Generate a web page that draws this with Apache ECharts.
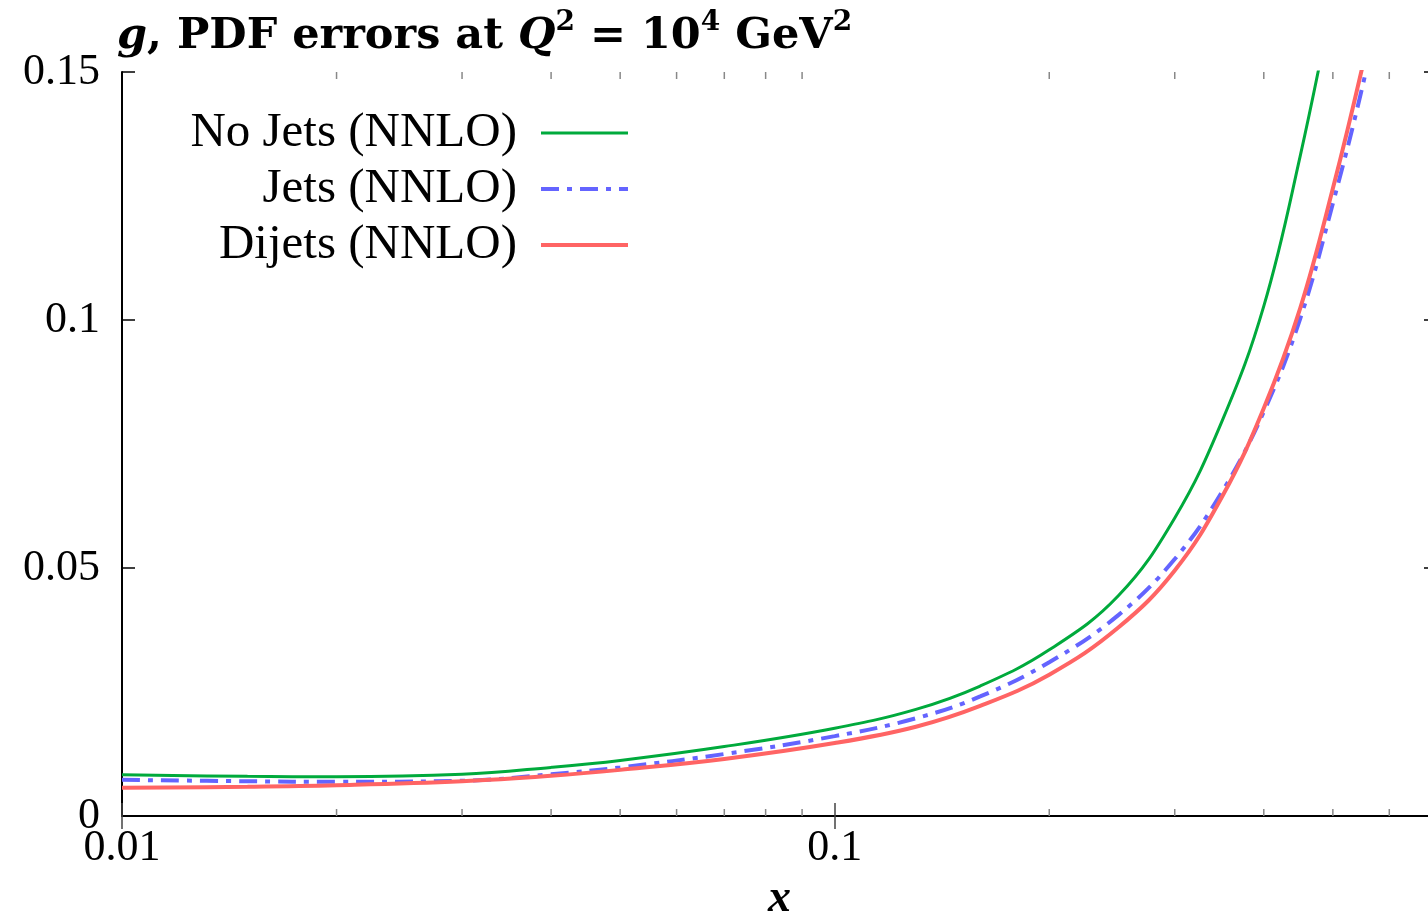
<!DOCTYPE html>
<html>
<head>
<meta charset="utf-8">
<script src="https://cdn.jsdelivr.net/npm/echarts@6/dist/echarts.min.js"></script>
<style>
html,body{margin:0;padding:0;background:#fff;}
#chart{width:1428px;height:915px;}
</style>
</head>
<body>
<div id="chart"></div>
<script>
// x values (log axis)
const xValues = [0.01, 0.015, 0.02, 0.03, 0.04, 0.05, 0.07, 0.1, 0.13, 0.16, 0.2, 0.25, 0.3, 0.35, 0.4, 0.45, 0.5, 0.55, 0.6];
// PDF errors
const noJets = [0.0083, 0.0080, 0.0079, 0.0084, 0.0098, 0.0112, 0.0140, 0.0177, 0.0215, 0.0262, 0.0335, 0.0444, 0.0601, 0.0798, 0.1028, 0.1331, 0.165, null, null];
const jets   = [0.0073, 0.0070, 0.0069, 0.0071, 0.0084, 0.0098, 0.0125, 0.0161, 0.0197, 0.0241, 0.0310, 0.0405, 0.0518, 0.0655, 0.0815, 0.1003, 0.1235, 0.1470, 0.1720];
const dijets = [0.0057, 0.0059, 0.0062, 0.0070, 0.0081, 0.0093, 0.0115, 0.0147, 0.0180, 0.0222, 0.0285, 0.0380, 0.0495, 0.0645, 0.0822, 0.1024, 0.1265, 0.1510, 0.1760];
const seriesNames = ['No Jets (NNLO)', 'Jets (NNLO)', 'Dijets (NNLO)'];
const seriesColors = ['#00aa3c', '#6464ff', '#ff6464'];
const seriesWidths = [3, 4, 4];
const minorTicks = [0.02, 0.03, 0.04, 0.05, 0.06, 0.07, 0.08, 0.09, 0.2, 0.3, 0.4, 0.5, 0.6];
const yTicks = { min: 0, max: 0.15, interval: 0.05 };
const xRange = { min: 0.01, max: 0.7 };

const FONT = 'Liberation Serif';
const DASHDOT = [18, 8, 5, 8];
const pair = arr => xValues.map((x, i) => [x, arr[i]]).filter(p => p[1] !== null);

const chart = echarts.init(document.getElementById('chart'), null, { renderer: 'canvas' });

const xLabelFmt = v => {
  const l = Math.log10(v);
  return Math.abs(l - Math.round(l)) < 1e-6 ? String(+v.toPrecision(3)) : '';
};

const commonY = {
  type: 'value', min: yTicks.min, max: yTicks.max, interval: yTicks.interval,
  axisLine: { show: true, lineStyle: { color: '#000', width: 2 } },
  axisTick: { show: true, inside: true, length: 13, lineStyle: { color: '#000', width: 1.5 } },
  splitLine: { show: false }
};

const option = {
  animation: false,
  backgroundColor: '#fff',
  title: {
    left: 117, top: 9, padding: 0,
    text: '{gi|g}{b|, PDF errors at }{gi|Q}{sup|2}{b| = 10}{sup|4}{b| GeV}{sup|2}',
    textStyle: {
      rich: {
        b: { fontFamily: 'DejaVu Serif', fontWeight: 'bold', fontSize: 43, color: '#000', lineHeight: 56 },
        gi: { fontFamily: 'DejaVu Serif', fontWeight: 'bold', fontStyle: 'italic', fontSize: 43, color: '#000', lineHeight: 56 },
        sup: { fontFamily: 'DejaVu Serif', fontWeight: 'bold', fontSize: 28, color: '#000', verticalAlign: 'top', lineHeight: 56, padding: [0, 0, 20, 0] }
      }
    }
  },
  legend: {
    orient: 'vertical', align: 'right',
    right: 798, top: 105, padding: 0,
    itemWidth: 87, itemHeight: 2, itemGap: 0,
    itemStyle: { color: 'rgba(0,0,0,0)', borderWidth: 0 },
    data: seriesNames.map((n, i) => ({
      name: n,
      lineStyle: { width: seriesWidths[i], color: seriesColors[i], type: i === 1 ? DASHDOT : 'solid' }
    })),
    textStyle: { fontFamily: FONT, fontSize: 49, color: '#000', lineHeight: 56, padding: [0, 19, 0, 0] }
  },
  grid: { left: 122, right: -9, top: 72, bottom: 99, containLabel: false, outerBoundsMode: 'none' },
  xAxis: [{
    type: 'log', logBase: 10, min: xRange.min, max: xRange.max,
    name: 'x', nameLocation: 'middle', nameGap: 60,
    nameTextStyle: { fontFamily: FONT, fontWeight: 'bold', fontStyle: 'italic', fontSize: 46, color: '#000' },
    axisLine: { show: true, lineStyle: { color: '#000', width: 2 } },
    axisTick: { show: true, inside: true, length: 13, lineStyle: { color: '#444', width: 1.5 } },
    axisLabel: { formatter: xLabelFmt, fontFamily: FONT, fontSize: 44, color: '#000', margin: 10 },
    splitLine: { show: false }, minorTick: { show: false }
  }, {
    type: 'log', logBase: 10, min: xRange.min, max: xRange.max, position: 'top',
    axisLine: { show: true, lineStyle: { color: '#000', width: 2 } },
    axisTick: { show: true, inside: true, length: 13, lineStyle: { color: '#444', width: 1.5 } },
    axisLabel: { show: false }, splitLine: { show: false }
  }],
  yAxis: [Object.assign({}, commonY, {
    position: 'left',
    axisLabel: { fontFamily: FONT, fontSize: 44, color: '#000', margin: 22 }
  }), Object.assign({}, commonY, {
    position: 'right', axisLabel: { show: false }
  })],
  series: [
    {
      type: 'custom', name: 'minorTicks', silent: true, xAxisIndex: 0, yAxisIndex: 0,
      data: minorTicks.map(v => [v, yTicks.min]),
      encode: { x: 0, y: 1 },
      clip: false,
      renderItem: (params, api) => {
        const x = api.value(0);
        const pb = api.coord([x, yTicks.min]);
        const pt = api.coord([x, yTicks.max]);
        const st = { stroke: '#888', lineWidth: 1.5 };
        return { type: 'group', children: [
          { type: 'line', shape: { x1: pb[0], y1: pb[1], x2: pb[0], y2: pb[1] - 7 }, style: st },
          { type: 'line', shape: { x1: pt[0], y1: pt[1], x2: pt[0], y2: pt[1] + 7 }, style: st }
        ] };
      },
      z: 1
    },
    {
      name: seriesNames[0], type: 'line', data: pair(noJets), smooth: 0.4, symbol: 'none',
      lineStyle: { color: seriesColors[0], width: seriesWidths[0] }, itemStyle: { color: seriesColors[0] }, z: 3
    },
    {
      name: seriesNames[1], type: 'line', data: pair(jets), smooth: 0.4, symbol: 'none',
      lineStyle: { color: seriesColors[1], width: seriesWidths[1], type: DASHDOT }, itemStyle: { color: seriesColors[1] }, z: 2
    },
    {
      name: seriesNames[2], type: 'line', data: pair(dijets), smooth: 0.4, symbol: 'none',
      lineStyle: { color: seriesColors[2], width: seriesWidths[2] }, itemStyle: { color: seriesColors[2] }, z: 4
    }
  ]
};
chart.setOption(option);
</script>
</body>
</html>
